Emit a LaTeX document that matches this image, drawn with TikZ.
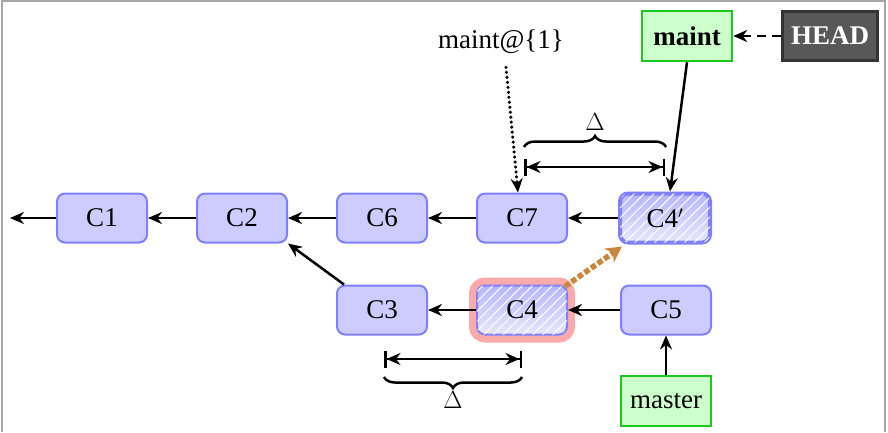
\documentclass[tikz,border=0pt]{standalone}
\usepackage{fontspec}
\setmainfont{Liberation Serif}
\usetikzlibrary{arrows.meta,patterns.meta,decorations.pathreplacing}
\definecolor{commitfill}{RGB}{204,204,255}
\definecolor{commitdraw}{RGB}{128,128,255}
\definecolor{reffill}{RGB}{204,255,204}
\definecolor{refdraw}{RGB}{30,200,30}
\definecolor{headfill}{RGB}{88,88,88}
\definecolor{halo}{RGB}{250,170,170}
\definecolor{moved}{RGB}{200,135,60}

\begin{document}
\begin{tikzpicture}[x=1pt, y=-1pt, font=\fontsize{27}{32}\selectfont,
  commit/.style={draw=commitdraw, fill=commitfill, line width=2pt, rounded corners=8pt,
    minimum width=90pt, minimum height=49pt, inner sep=0pt},
  copied/.style={commit, top color=commitfill!70!commitdraw, bottom color=commitfill!45!white,
    postaction={pattern={Lines[angle=45, distance=7pt, line width=1pt]}, pattern color=white, fill opacity=0.4}},
  branch/.style={draw=refdraw, fill=reffill, line width=2.5pt, minimum width=90pt, minimum height=50pt, inner sep=0pt},
  link/.style={-{Stealth[length=14pt, width=12pt]}, line width=2.5pt},
  span/.style={{Bar[width=17pt]Stealth[length=14pt, width=12pt]}-{Stealth[length=14pt, width=12pt]Bar[width=17pt]}, line width=2.5pt},
  curly/.style={decorate, decoration={brace, amplitude=11pt}, line width=2.5pt}]
  \useasboundingbox (0,0) rectangle (888,432);
  \draw[gray!70, line width=2pt] (2,432) -- (2,1) -- (885,1) -- (885,432);

  % commits
  \node[commit] (C1) at (102,218) {C1};
  \node[commit] (C2) at (242,218) {C2};
  \node[commit] (C6) at (382,218) {C6};
  \node[commit] (C7) at (522,218) {C7};
  \node[copied, line width=4pt] (C4p) at (665,218) {C4$'$};
  \node[commit] (C3) at (382,310) {C3};
  \node[copied, preaction={draw=halo, line width=16pt}] (C4) at (522,310) {C4};
  \node[commit] (C5) at (666,310) {C5};

  % refs
  \node[branch] (maint) at (687,36) {\textbf{maint}};
  \node[draw=black!80, fill=headfill, line width=3pt, text=white, minimum width=95pt, minimum height=49pt, inner sep=0pt] (head) at (830,36) {\textbf{HEAD}};
  \node[branch] (master) at (666,401) {master};
  \node (old) at (501,42) {maint@\{1\}};
  \coordinate (tail) at (10,218);

  \draw[link] (C1) -- (tail);
  \draw[link] (C2) -- (C1);
  \draw[link] (C6) -- (C2);
  \draw[link] (C7) -- (C6);
  \draw[link] (C4p) -- (C7);
  \draw[link] ([xshift=8pt]C3.north west) -- (C2.south east);
  \draw[link] (C4) -- (C3);
  \draw[link] (C5) -- (C4);
  \draw[link] (master) -- (C5);
  \draw[link] (maint.south) -- ([xshift=5pt]C4p.north);
  \draw[link, dash pattern=on 9pt off 6pt] (head) -- (maint);
  \draw[link, line width=3.5pt, line cap=round, dash pattern=on 0pt off 5pt]
    ([xshift=5pt, yshift=-10pt]old.south) -- ([xshift=-4pt]C7.north);
  \draw[-{Stealth[length=16pt, width=17pt]}, moved, line width=5.5pt, dash pattern=on 5.5pt off 2.5pt]
    ([xshift=-3pt, yshift=-2pt]C4.north east) -- ([xshift=4pt, yshift=-2pt]C4p.south west);

  % deltas
  \coordinate (a1) at (524,167);
  \coordinate (a2) at (665,167);
  \draw[span] (a1) -- (a2);
  \draw[curly] (524,147) -- (666,147) node[midway, above=12pt] {$\Delta$};
  \coordinate (b1) at (384,359);
  \coordinate (b2) at (522,359);
  \draw[span] (b1) -- (b2);
  \draw[curly] (522,377) -- (384,377) node[midway, below=10pt] {$\Delta$};
\end{tikzpicture}
\end{document}
